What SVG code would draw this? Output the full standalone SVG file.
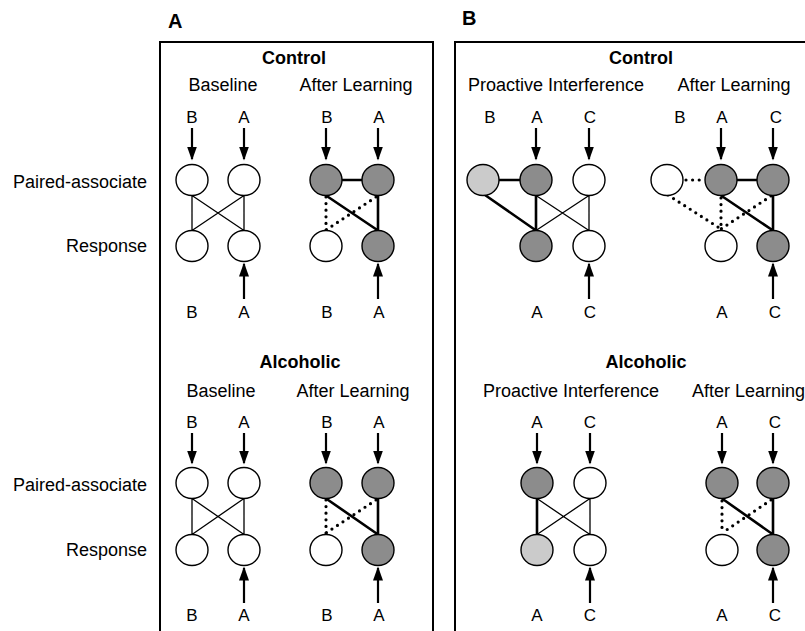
<svg xmlns="http://www.w3.org/2000/svg" width="805" height="631" viewBox="0 0 805 631">
<defs>
<style>
text{font-family:"Liberation Sans",Arial,sans-serif;fill:#000}
.t{font-size:18px;text-anchor:middle}
.b{font-size:18px;font-weight:bold;text-anchor:middle}
.p{font-size:20px;font-weight:bold}
.l{font-size:17px;text-anchor:middle}
.s{font-size:18px;text-anchor:end}
.n{stroke:#000;stroke-width:1.4;fill:#fff}
.d{fill:#8c8c8c}
.g{fill:#cbcbcb}
.thin{stroke:#000;stroke-width:1.3;fill:none}
.thick{stroke:#000;stroke-width:2.6;fill:none}
.dot{stroke:#000;stroke-width:3.2;fill:none;stroke-linecap:round;stroke-dasharray:0 6.6}
.ar{stroke:#000;stroke-width:2.2;fill:none;marker-end:url(#ah)}
.box{stroke:#000;stroke-width:2;fill:none}
</style>
<marker id="ah" viewBox="0 0 14 10" refX="12.5" refY="5" markerWidth="14" markerHeight="10" markerUnits="userSpaceOnUse" orient="auto">
<path d="M0,0 L14,5 L0,10 z" fill="#000"/>
</marker>
</defs>
<rect width="805" height="631" fill="#fff"/>

<g id="panels">
<text class="p" x="168" y="28">A</text>
<text class="p" x="462" y="25">B</text>
<rect class="box" x="160" y="42" width="273" height="620"/>
<rect class="box" x="455" y="42" width="380" height="620"/>
</g>

<g id="row-labels">
<text class="s" x="147" y="188">Paired-associate</text>
<text class="s" x="147" y="252">Response</text>
<text class="s" x="147" y="491">Paired-associate</text>
<text class="s" x="147" y="556">Response</text>
</g>

<g id="titles">
<text class="b" x="294" y="64">Control</text>
<text class="t" x="223" y="91">Baseline</text>
<text class="t" x="356" y="91">After Learning</text>
<text class="b" x="300" y="368">Alcoholic</text>
<text class="t" x="221" y="397">Baseline</text>
<text class="t" x="353" y="397">After Learning</text>
<text class="b" x="641" y="64">Control</text>
<text class="t" x="556" y="91">Proactive Interference</text>
<text class="t" x="734" y="91">After Learning</text>
<text class="b" x="646" y="368">Alcoholic</text>
<text class="t" x="571" y="397">Proactive Interference</text>
<text class="t" x="692" y="397" style="text-anchor:start">After Learning</text>
</g>

<g id="letters">
<text class="l" x="192" y="123">B</text><text class="l" x="244" y="123">A</text>
<text class="l" x="192" y="318">B</text><text class="l" x="244" y="318">A</text>
<text class="l" x="327" y="123">B</text><text class="l" x="379" y="123">A</text>
<text class="l" x="327" y="318">B</text><text class="l" x="379" y="318">A</text>
<text class="l" x="192" y="428">B</text><text class="l" x="244" y="428">A</text>
<text class="l" x="192" y="621">B</text><text class="l" x="244" y="621">A</text>
<text class="l" x="327" y="428">B</text><text class="l" x="379" y="428">A</text>
<text class="l" x="327" y="621">B</text><text class="l" x="379" y="621">A</text>
<text class="l" x="490" y="123">B</text><text class="l" x="537" y="123">A</text><text class="l" x="590" y="123">C</text>
<text class="l" x="537" y="318">A</text><text class="l" x="590" y="318">C</text>
<text class="l" x="680" y="123">B</text><text class="l" x="722" y="123">A</text><text class="l" x="776" y="123">C</text>
<text class="l" x="722" y="318">A</text><text class="l" x="775" y="318">C</text>
<text class="l" x="537" y="428">A</text><text class="l" x="590" y="428">C</text>
<text class="l" x="537" y="621">A</text><text class="l" x="590" y="621">C</text>
<text class="l" x="722" y="428">A</text><text class="l" x="775" y="428">C</text>
<text class="l" x="722" y="621">A</text><text class="l" x="775" y="621">C</text>
</g>

<g id="connectors">
<!-- A control baseline -->
<path class="thin" d="M192,195.5V230.5M244,195.5V230.5M192,195.5L244,230.5M244,195.5L192,230.5"/>
<path class="ar" d="M192,128V159"/><path class="ar" d="M244,128V159"/><path class="ar" d="M244,299V264"/>
<!-- A control after learning -->
<path class="thick" d="M342,180H362M326,195.5L378,230.5M378,195.5V230.5"/>
<path class="dot" d="M326,197V230M376,197L326,230"/>
<path class="ar" d="M326,128V159"/><path class="ar" d="M378,128V159"/><path class="ar" d="M378,299V264"/>
<!-- A alcoholic baseline -->
<path class="thin" d="M192,498.5V534.5M244,498.5V534.5M192,498.5L244,534.5M244,498.5L192,534.5"/>
<path class="ar" d="M192,433V463"/><path class="ar" d="M244,433V463"/><path class="ar" d="M244,603V568"/>
<!-- A alcoholic after learning -->
<path class="thick" d="M326,498.5L378,534.5M378,498.5V534.5"/>
<path class="dot" d="M326,500V533M376,500L326,533"/>
<path class="ar" d="M326,433V463"/><path class="ar" d="M378,433V463"/><path class="ar" d="M378,603V568"/>
<!-- B control PI -->
<path class="thick" d="M499,180H520M485,195L536,230.5M536,195.5V230.5"/>
<path class="thin" d="M536,195.5L589,230.5M589,195.5L536,230.5M589,195.5V230.5"/>
<path class="ar" d="M536,128V159"/><path class="ar" d="M589,128V159"/><path class="ar" d="M589,299V264"/>
<!-- B control after learning -->
<path class="thick" d="M737,180H757M721,195.5L773,230.5M773,195.5V230.5"/>
<path class="dot" d="M686,180H704M668,195L721,229M721,198V229M771,196L721,229"/>
<path class="ar" d="M721,128V159"/><path class="ar" d="M773,128V159"/><path class="ar" d="M773,299V264"/>
<!-- B alcoholic PI -->
<path class="thick" d="M537,498.5V534.5"/>
<path class="thin" d="M537,498.5L590,534.5M590,498.5L537,534.5M590,498.5V534.5"/>
<path class="ar" d="M537,433V463"/><path class="ar" d="M590,433V463"/><path class="ar" d="M590,603V568"/>
<!-- B alcoholic after learning -->
<path class="thick" d="M722,498.5L773,534.5M773,498.5V534.5"/>
<path class="dot" d="M722,501V533M771,500L722,533"/>
<path class="ar" d="M722,433V463"/><path class="ar" d="M773,433V463"/><path class="ar" d="M773,603V568"/>
</g>

<g id="nodes">
<g id="a-ctl-base-tl"><ellipse class="n" cx="192" cy="180" rx="16" ry="15.5"/></g>
<g id="a-ctl-base-tr"><ellipse class="n" cx="244" cy="180" rx="16" ry="15.5"/></g>
<g id="a-ctl-base-bl"><ellipse class="n" cx="192" cy="246" rx="16" ry="15.5"/></g>
<g id="a-ctl-base-br"><ellipse class="n" cx="244" cy="246" rx="16" ry="15.5"/></g>
<g id="a-ctl-al-tl"><ellipse class="n d" cx="326" cy="180" rx="16" ry="15.5"/></g>
<g id="a-ctl-al-tr"><ellipse class="n d" cx="378" cy="180" rx="16" ry="15.5"/></g>
<g id="a-ctl-al-bl"><ellipse class="n" cx="326" cy="246" rx="16" ry="15.5"/></g>
<g id="a-ctl-al-br"><ellipse class="n d" cx="378" cy="246" rx="16" ry="15.5"/></g>
<g id="a-alc-base-tl"><ellipse class="n" cx="192" cy="483" rx="16" ry="15.5"/></g>
<g id="a-alc-base-tr"><ellipse class="n" cx="244" cy="483" rx="16" ry="15.5"/></g>
<g id="a-alc-base-bl"><ellipse class="n" cx="192" cy="550" rx="16" ry="15.5"/></g>
<g id="a-alc-base-br"><ellipse class="n" cx="244" cy="550" rx="16" ry="15.5"/></g>
<g id="a-alc-al-tl"><ellipse class="n d" cx="326" cy="483" rx="16" ry="15.5"/></g>
<g id="a-alc-al-tr"><ellipse class="n d" cx="378" cy="483" rx="16" ry="15.5"/></g>
<g id="a-alc-al-bl"><ellipse class="n" cx="326" cy="550" rx="16" ry="15.5"/></g>
<g id="a-alc-al-br"><ellipse class="n d" cx="378" cy="550" rx="16" ry="15.5"/></g>
<g id="b-ctl-pi-b"><ellipse class="n g" cx="483" cy="180" rx="16" ry="15.5"/></g>
<g id="b-ctl-pi-a"><ellipse class="n d" cx="536" cy="180" rx="16" ry="15.5"/></g>
<g id="b-ctl-pi-c"><ellipse class="n" cx="589" cy="180" rx="16" ry="15.5"/></g>
<g id="b-ctl-pi-ra"><ellipse class="n d" cx="536" cy="246" rx="16" ry="15.5"/></g>
<g id="b-ctl-pi-rc"><ellipse class="n" cx="589" cy="246" rx="16" ry="15.5"/></g>
<g id="b-ctl-al-b"><ellipse class="n" cx="667" cy="180" rx="16" ry="15.5"/></g>
<g id="b-ctl-al-a"><ellipse class="n d" cx="721" cy="180" rx="16" ry="15.5"/></g>
<g id="b-ctl-al-c"><ellipse class="n d" cx="773" cy="180" rx="16" ry="15.5"/></g>
<g id="b-ctl-al-ra"><ellipse class="n" cx="721" cy="246" rx="16" ry="15.5"/></g>
<g id="b-ctl-al-rc"><ellipse class="n d" cx="773" cy="246" rx="16" ry="15.5"/></g>
<g id="b-alc-pi-a"><ellipse class="n d" cx="537" cy="483" rx="16" ry="15.5"/></g>
<g id="b-alc-pi-c"><ellipse class="n" cx="590" cy="483" rx="16" ry="15.5"/></g>
<g id="b-alc-pi-ra"><ellipse class="n g" cx="537" cy="550" rx="16" ry="15.5"/></g>
<g id="b-alc-pi-rc"><ellipse class="n" cx="590" cy="550" rx="16" ry="15.5"/></g>
<g id="b-alc-al-a"><ellipse class="n d" cx="722" cy="483" rx="16" ry="15.5"/></g>
<g id="b-alc-al-c"><ellipse class="n d" cx="773" cy="483" rx="16" ry="15.5"/></g>
<g id="b-alc-al-ra"><ellipse class="n" cx="722" cy="550" rx="16" ry="15.5"/></g>
<g id="b-alc-al-rc"><ellipse class="n d" cx="773" cy="550" rx="16" ry="15.5"/></g>
</g>
</svg>
